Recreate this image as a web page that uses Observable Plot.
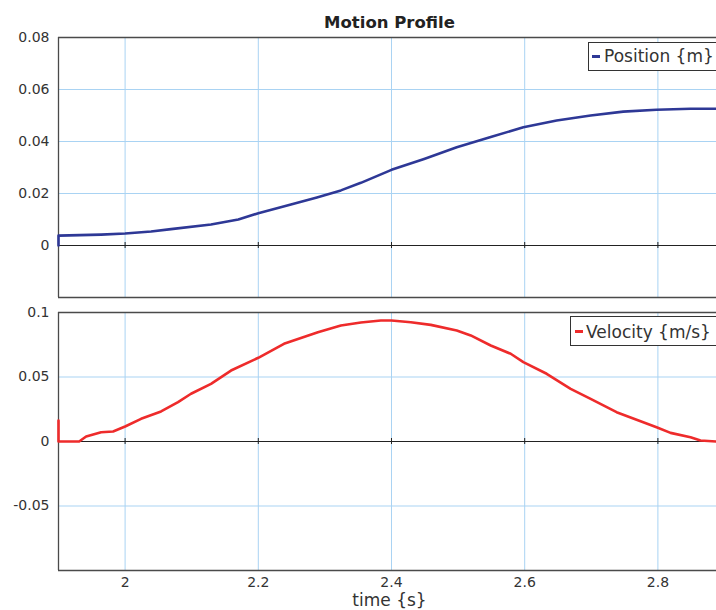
<!DOCTYPE html>
<html>
<head>
<meta charset="utf-8">
<script src="https://cdn.jsdelivr.net/npm/d3@7"></script>
<script src="https://cdn.jsdelivr.net/npm/@observablehq/plot@0.6"></script>
<style>
  html, body { margin: 0; padding: 0; background: #fff; }
  #wrap { position: relative; width: 716px; height: 610px; overflow: hidden; font-family: "DejaVu Sans", Verdana, sans-serif; color: #333; }
  #wrap svg { position: absolute; left: 0; overflow: visible; }
  .abs { position: absolute; white-space: nowrap; }
  .title { font-weight: bold; font-size: 16.5px; line-height: 16.5px; color: #222; }
  .legend { border: 1px solid #333; background: #fff; box-sizing: border-box; font-size: 17px; }
  .legend .dash { position: absolute; width: 8px; height: 3px; }
  .legend .txt { position: absolute; line-height: 17px; color: #333; }
</style>
</head>
<body>
<div id="wrap"></div>
<script>
// ---- data ----
const timeTicks = [2, 2.2, 2.4, 2.6, 2.8];
const timeDomain = [1.9, 2.888];

const posTime  = [1.9, 1.9, 1.964, 2.0, 2.039, 2.069, 2.129, 2.17, 2.2, 2.249, 2.288, 2.324, 2.354, 2.4, 2.449, 2.498, 2.549, 2.598, 2.648, 2.699, 2.748, 2.798, 2.849, 2.888];
const posValue = [0, 0.0038, 0.0042, 0.0046, 0.0054, 0.0063, 0.0081, 0.0100, 0.0124, 0.0158, 0.0185, 0.0212, 0.0241, 0.0291, 0.0333, 0.0378, 0.0417, 0.0455, 0.0481, 0.0500, 0.0515, 0.0522, 0.0526, 0.0526];
const posTicks = [0, 0.02, 0.04, 0.06, 0.08];
const posGrid = [0.02, 0.04, 0.06];
const posDomain = [-0.02, 0.08];

const velTime  = [1.9, 1.9, 1.931, 1.9415, 1.964, 1.982, 2.0, 2.024, 2.054, 2.0795, 2.099, 2.129, 2.159, 2.2, 2.2385, 2.2895, 2.324, 2.354, 2.384, 2.4, 2.429, 2.459, 2.498, 2.519, 2.549, 2.579, 2.598, 2.633, 2.669, 2.699, 2.738, 2.798, 2.819, 2.849, 2.864, 2.888];
const velValue = [0.0163, 0, 0, 0.0039, 0.0072, 0.0078, 0.0116, 0.0176, 0.0233, 0.0305, 0.0370, 0.0447, 0.0550, 0.0649, 0.0757, 0.0847, 0.0899, 0.0922, 0.0938, 0.0938, 0.0925, 0.0904, 0.0860, 0.0822, 0.0744, 0.0680, 0.0615, 0.0525, 0.0408, 0.0331, 0.0227, 0.0111, 0.0067, 0.0033, 0.0008, 0];
const velTicks = [-0.05, 0, 0.05, 0.1];
const velGrid = [-0.05, 0.05];
const velDomain = [-0.1, 0.1];

const posData = posTime.map((t, i) => ({t, v: posValue[i]}));
const velData = velTime.map((t, i) => ({t, v: velValue[i]}));

const GRID = "#a9d3f3", FRAME = "#4a4a4a", BLUE = "#2e3896", RED = "#ee2b2b";
const FONT = "'DejaVu Sans', Verdana, sans-serif";

function panel({data, color, yDomain, yTicks, yGrid, yFormat, height, marginTop, marginBottom, showX}) {
  const marks = [
    Plot.gridX(timeTicks, {stroke: GRID, strokeOpacity: 1, strokeWidth: 1}),
    Plot.gridY(yGrid, {stroke: GRID, strokeOpacity: 1, strokeWidth: 1}),
    Plot.ruleY([0], {stroke: "#222", strokeWidth: 1}),
    Plot.ruleX(timeTicks, {x: d => d, y1: 0, y2: 0, insetTop: -3, insetBottom: -3, stroke: "#222"}),
    Plot.ruleY([yDomain[1], yDomain[0]], {stroke: FRAME, strokeWidth: 1.3}),
    Plot.ruleX([timeDomain[0]], {stroke: FRAME, strokeWidth: 1.3}),
    Plot.axisY(yTicks, {tickSize: 0, tickPadding: 9, tickFormat: yFormat, fontSize: 14, fill: "#333", label: null}),
    Plot.line(data, {x: "t", y: "v", stroke: color, strokeWidth: 2.6, strokeLinejoin: "round"})
  ];
  if (showX) marks.push(Plot.axisX(timeTicks, {tickSize: 0, tickPadding: 7, fontSize: 14, fill: "#333", label: null, tickFormat: d => String(d)}));
  else marks.push(Plot.axisX({ticks: [], label: null}));
  return Plot.plot({
    width: 716, height, marginTop, marginBottom, marginLeft: 58, marginRight: 0,
    style: {fontFamily: FONT, fontSize: "14px", background: "transparent", color: "#333"},
    x: {domain: timeDomain, label: null},
    y: {domain: yDomain, label: null},
    marks
  });
}

const wrap = document.getElementById("wrap");

const p1 = panel({data: posData, color: BLUE, yDomain: posDomain, yTicks: posTicks, yGrid: posGrid,
  yFormat: d => String(+d.toFixed(2)), height: 300, marginTop: 37, marginBottom: 3, showX: false});
p1.style.top = "0px";
wrap.appendChild(p1);

const p2 = panel({data: velData, color: RED, yDomain: velDomain, yTicks: velTicks, yGrid: velGrid,
  yFormat: d => String(+d.toFixed(2)), height: 310, marginTop: 12, marginBottom: 40, showX: true});
p2.style.top = "300px";
wrap.appendChild(p2);

function addDiv(cls, text, css) {
  const d = document.createElement("div");
  d.className = "abs " + cls;
  if (text != null) d.textContent = text;
  Object.assign(d.style, css);
  wrap.appendChild(d);
  return d;
}

addDiv("title", "Motion Profile", {left: "0px", width: "779px", textAlign: "center", top: "15px"});
addDiv("axlabel", "time {s}", {left: "0px", width: "779px", textAlign: "center", top: "592px", fontSize: "17px", lineHeight: "17px", color: "#333"});

function legend(label, color, left, top, h, dashLeft, dashTop, textLeft, textTop) {
  const box = addDiv("legend", null, {left: left + "px", top: top + "px", width: "200px", height: h + "px"});
  const dash = document.createElement("div");
  dash.className = "dash";
  Object.assign(dash.style, {left: dashLeft + "px", top: dashTop + "px", background: color});
  box.appendChild(dash);
  const t = document.createElement("div");
  t.className = "txt";
  t.textContent = label;
  Object.assign(t.style, {left: textLeft + "px", top: textTop + "px"});
  box.appendChild(t);
}
legend("Position {m}", BLUE, 588, 42, 29, 3, 12, 15, 5);
legend("Velocity {m/s}", RED, 570, 316, 30, 4, 13, 15, 7);
</script>
</body>
</html>
